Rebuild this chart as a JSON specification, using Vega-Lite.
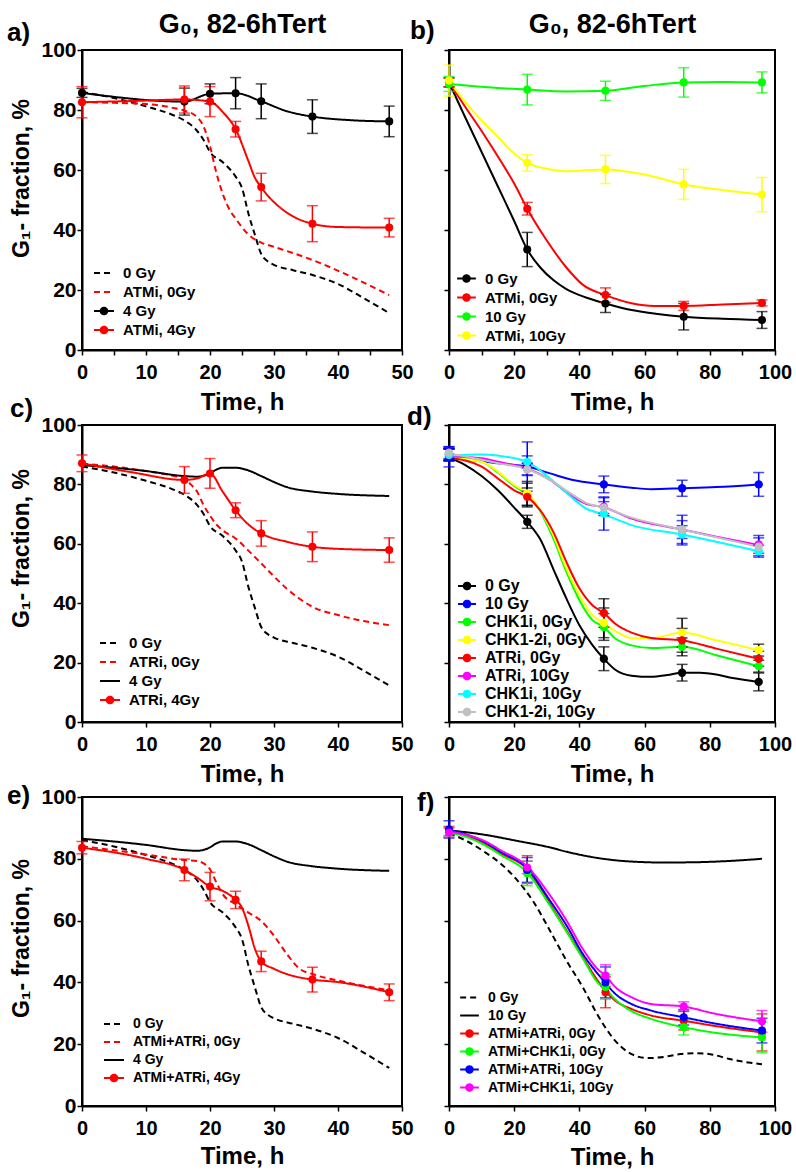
{
"$schema": "https://vega.github.io/schema/vega-lite/v6.json",
"padding": {"left": 6, "top": 9, "right": 5, "bottom": 5},
"background": "white",
"datasets": {
"curves": [
{"p":"ace","s":"0 Gy","t":0,"v":86},{"p":"ace","s":"0 Gy","t":5,"v":84},{"p":"ace","s":"0 Gy","t":10,"v":81.2},{"p":"ace","s":"0 Gy","t":14,"v":78.5},{"p":"ace","s":"0 Gy","t":16,"v":76.5},{"p":"ace","s":"0 Gy","t":18,"v":73},{"p":"ace","s":"0 Gy","t":19,"v":70},{"p":"ace","s":"0 Gy","t":20,"v":66},{"p":"ace","s":"0 Gy","t":22,"v":62.6},{"p":"ace","s":"0 Gy","t":24,"v":57.8},{"p":"ace","s":"0 Gy","t":25,"v":54},{"p":"ace","s":"0 Gy","t":26,"v":45.5},{"p":"ace","s":"0 Gy","t":27,"v":38.5},{"p":"ace","s":"0 Gy","t":28,"v":32},{"p":"ace","s":"0 Gy","t":29,"v":29.6},{"p":"ace","s":"0 Gy","t":30,"v":28.4},{"p":"ace","s":"0 Gy","t":33,"v":26.6},{"p":"ace","s":"0 Gy","t":36,"v":25},{"p":"ace","s":"0 Gy","t":40,"v":22},{"p":"ace","s":"0 Gy","t":44,"v":17.3},{"p":"ace","s":"0 Gy","t":48,"v":12.3},
{"p":"a","s":"ATMi, 0Gy","t":0,"v":82.6},{"p":"a","s":"ATMi, 0Gy","t":5,"v":82.4},{"p":"a","s":"ATMi, 0Gy","t":10,"v":82},{"p":"a","s":"ATMi, 0Gy","t":14,"v":80.8},{"p":"a","s":"ATMi, 0Gy","t":16,"v":79.8},{"p":"a","s":"ATMi, 0Gy","t":18,"v":77.6},{"p":"a","s":"ATMi, 0Gy","t":19,"v":74.5},{"p":"a","s":"ATMi, 0Gy","t":20,"v":68},{"p":"a","s":"ATMi, 0Gy","t":21,"v":59},{"p":"a","s":"ATMi, 0Gy","t":22,"v":52},{"p":"a","s":"ATMi, 0Gy","t":23,"v":47},{"p":"a","s":"ATMi, 0Gy","t":24,"v":43.8},{"p":"a","s":"ATMi, 0Gy","t":26,"v":38.5},{"p":"a","s":"ATMi, 0Gy","t":28,"v":35.8},{"p":"a","s":"ATMi, 0Gy","t":30,"v":34.4},{"p":"a","s":"ATMi, 0Gy","t":36,"v":30},{"p":"a","s":"ATMi, 0Gy","t":42,"v":24.5},{"p":"a","s":"ATMi, 0Gy","t":48,"v":18.3},
{"p":"a","s":"4 Gy","t":0,"v":85.7},{"p":"a","s":"4 Gy","t":16,"v":82.8},{"p":"a","s":"4 Gy","t":20,"v":85.4},{"p":"a","s":"4 Gy","t":24,"v":85.6},{"p":"a","s":"4 Gy","t":28,"v":82.9},{"p":"a","s":"4 Gy","t":32,"v":79.6},{"p":"a","s":"4 Gy","t":36,"v":77.8},{"p":"a","s":"4 Gy","t":42,"v":76.6},{"p":"a","s":"4 Gy","t":48,"v":76.2},
{"p":"a","s":"ATMi, 4Gy","t":0,"v":82.6},{"p":"a","s":"ATMi, 4Gy","t":8,"v":83},{"p":"a","s":"ATMi, 4Gy","t":16,"v":83.5},{"p":"a","s":"ATMi, 4Gy","t":20,"v":82.8},{"p":"a","s":"ATMi, 4Gy","t":22,"v":79.3},{"p":"a","s":"ATMi, 4Gy","t":24,"v":73.6},{"p":"a","s":"ATMi, 4Gy","t":26,"v":63},{"p":"a","s":"ATMi, 4Gy","t":27,"v":57.5},{"p":"a","s":"ATMi, 4Gy","t":28,"v":54.3},{"p":"a","s":"ATMi, 4Gy","t":29,"v":51.5},{"p":"a","s":"ATMi, 4Gy","t":30,"v":49.3},{"p":"a","s":"ATMi, 4Gy","t":33,"v":44.5},{"p":"a","s":"ATMi, 4Gy","t":36,"v":42.1},{"p":"a","s":"ATMi, 4Gy","t":40,"v":41},{"p":"a","s":"ATMi, 4Gy","t":48,"v":40.8},
{"p":"b","s":"0 Gy","t":0,"v":89.2},{"p":"b","s":"0 Gy","t":5,"v":77.5},{"p":"b","s":"0 Gy","t":10,"v":66},{"p":"b","s":"0 Gy","t":15,"v":54.5},{"p":"b","s":"0 Gy","t":20,"v":43},{"p":"b","s":"0 Gy","t":24,"v":33.5},{"p":"b","s":"0 Gy","t":28,"v":27.5},{"p":"b","s":"0 Gy","t":32,"v":23.3},{"p":"b","s":"0 Gy","t":36,"v":20.3},{"p":"b","s":"0 Gy","t":42,"v":17.5},{"p":"b","s":"0 Gy","t":48,"v":15.5},{"p":"b","s":"0 Gy","t":56,"v":13.3},{"p":"b","s":"0 Gy","t":64,"v":12},{"p":"b","s":"0 Gy","t":72,"v":11.1},{"p":"b","s":"0 Gy","t":84,"v":10.4},{"p":"b","s":"0 Gy","t":96,"v":10},
{"p":"b","s":"ATMi, 0Gy","t":0,"v":89.2},{"p":"b","s":"ATMi, 0Gy","t":5,"v":81},{"p":"b","s":"ATMi, 0Gy","t":10,"v":73},{"p":"b","s":"ATMi, 0Gy","t":15,"v":64.5},{"p":"b","s":"ATMi, 0Gy","t":20,"v":55.5},{"p":"b","s":"ATMi, 0Gy","t":24,"v":47.1},{"p":"b","s":"ATMi, 0Gy","t":30,"v":36.5},{"p":"b","s":"ATMi, 0Gy","t":36,"v":27.5},{"p":"b","s":"ATMi, 0Gy","t":41,"v":21.8},{"p":"b","s":"ATMi, 0Gy","t":48,"v":18.3},{"p":"b","s":"ATMi, 0Gy","t":56,"v":15.6},{"p":"b","s":"ATMi, 0Gy","t":63,"v":14.7},{"p":"b","s":"ATMi, 0Gy","t":72,"v":14.7},{"p":"b","s":"ATMi, 0Gy","t":84,"v":15.2},{"p":"b","s":"ATMi, 0Gy","t":96,"v":15.7},
{"p":"b","s":"10 Gy","t":0,"v":88.7},{"p":"b","s":"10 Gy","t":12,"v":87.6},{"p":"b","s":"10 Gy","t":24,"v":86.8},{"p":"b","s":"10 Gy","t":36,"v":86.2},{"p":"b","s":"10 Gy","t":48,"v":86.4},{"p":"b","s":"10 Gy","t":60,"v":88},{"p":"b","s":"10 Gy","t":72,"v":89.2},{"p":"b","s":"10 Gy","t":84,"v":89.3},{"p":"b","s":"10 Gy","t":96,"v":89.2},
{"p":"b","s":"ATMi, 10Gy","t":0,"v":89.8},{"p":"b","s":"ATMi, 10Gy","t":5,"v":82.6},{"p":"b","s":"ATMi, 10Gy","t":10,"v":76.5},{"p":"b","s":"ATMi, 10Gy","t":15,"v":71},{"p":"b","s":"ATMi, 10Gy","t":20,"v":65.5},{"p":"b","s":"ATMi, 10Gy","t":24,"v":62.4},{"p":"b","s":"ATMi, 10Gy","t":30,"v":60.4},{"p":"b","s":"ATMi, 10Gy","t":36,"v":59.6},{"p":"b","s":"ATMi, 10Gy","t":48,"v":60.2},{"p":"b","s":"ATMi, 10Gy","t":60,"v":58.5},{"p":"b","s":"ATMi, 10Gy","t":72,"v":55.2},{"p":"b","s":"ATMi, 10Gy","t":84,"v":53.3},{"p":"b","s":"ATMi, 10Gy","t":96,"v":51.8},
{"p":"c","s":"ATRi, 0Gy","t":0,"v":87},{"p":"c","s":"ATRi, 0Gy","t":5,"v":86},{"p":"c","s":"ATRi, 0Gy","t":10,"v":84.5},{"p":"c","s":"ATRi, 0Gy","t":14,"v":83},{"p":"c","s":"ATRi, 0Gy","t":16,"v":82},{"p":"c","s":"ATRi, 0Gy","t":17,"v":80},{"p":"c","s":"ATRi, 0Gy","t":18,"v":77.5},{"p":"c","s":"ATRi, 0Gy","t":19,"v":73},{"p":"c","s":"ATRi, 0Gy","t":20,"v":69.5},{"p":"c","s":"ATRi, 0Gy","t":21,"v":66.5},{"p":"c","s":"ATRi, 0Gy","t":22,"v":64.5},{"p":"c","s":"ATRi, 0Gy","t":24,"v":61.8},{"p":"c","s":"ATRi, 0Gy","t":26,"v":57.7},{"p":"c","s":"ATRi, 0Gy","t":28,"v":53.4},{"p":"c","s":"ATRi, 0Gy","t":30,"v":49},{"p":"c","s":"ATRi, 0Gy","t":32,"v":44.9},{"p":"c","s":"ATRi, 0Gy","t":34,"v":41.5},{"p":"c","s":"ATRi, 0Gy","t":36,"v":38.8},{"p":"c","s":"ATRi, 0Gy","t":40,"v":36},{"p":"c","s":"ATRi, 0Gy","t":44,"v":34},{"p":"c","s":"ATRi, 0Gy","t":48,"v":32.6},
{"p":"ce","s":"4 Gy","t":0,"v":86.5},{"p":"ce","s":"4 Gy","t":10,"v":84.5},{"p":"ce","s":"4 Gy","t":16,"v":82.8},{"p":"ce","s":"4 Gy","t":18,"v":82.6},{"p":"ce","s":"4 Gy","t":19,"v":82.9},{"p":"ce","s":"4 Gy","t":20,"v":83.7},{"p":"ce","s":"4 Gy","t":21,"v":85},{"p":"ce","s":"4 Gy","t":22,"v":85.6},{"p":"ce","s":"4 Gy","t":24,"v":85.6},{"p":"ce","s":"4 Gy","t":26,"v":84.7},{"p":"ce","s":"4 Gy","t":28,"v":82.8},{"p":"ce","s":"4 Gy","t":30,"v":80.8},{"p":"ce","s":"4 Gy","t":32,"v":79.1},{"p":"ce","s":"4 Gy","t":36,"v":77.6},{"p":"ce","s":"4 Gy","t":40,"v":76.8},{"p":"ce","s":"4 Gy","t":48,"v":76.1},
{"p":"c","s":"ATRi, 4Gy","t":0,"v":87.1},{"p":"c","s":"ATRi, 4Gy","t":8,"v":84},{"p":"c","s":"ATRi, 4Gy","t":16,"v":81.5},{"p":"c","s":"ATRi, 4Gy","t":18,"v":82},{"p":"c","s":"ATRi, 4Gy","t":20,"v":83.7},{"p":"c","s":"ATRi, 4Gy","t":22,"v":77.5},{"p":"c","s":"ATRi, 4Gy","t":24,"v":71.3},{"p":"c","s":"ATRi, 4Gy","t":26,"v":66.5},{"p":"c","s":"ATRi, 4Gy","t":28,"v":63.5},{"p":"c","s":"ATRi, 4Gy","t":32,"v":60.7},{"p":"c","s":"ATRi, 4Gy","t":36,"v":59},{"p":"c","s":"ATRi, 4Gy","t":40,"v":58.3},{"p":"c","s":"ATRi, 4Gy","t":48,"v":57.9},
{"p":"d","s":"0 Gy","t":0,"v":89},{"p":"d","s":"0 Gy","t":5,"v":86.5},{"p":"d","s":"0 Gy","t":10,"v":82.8},{"p":"d","s":"0 Gy","t":15,"v":78},{"p":"d","s":"0 Gy","t":20,"v":72.2},{"p":"d","s":"0 Gy","t":24,"v":67.4},{"p":"d","s":"0 Gy","t":28,"v":61.5},{"p":"d","s":"0 Gy","t":32,"v":51.5},{"p":"d","s":"0 Gy","t":36,"v":41.6},{"p":"d","s":"0 Gy","t":40,"v":32.6},{"p":"d","s":"0 Gy","t":44,"v":25.9},{"p":"d","s":"0 Gy","t":47.5,"v":21.3},{"p":"d","s":"0 Gy","t":51,"v":17.6},{"p":"d","s":"0 Gy","t":56,"v":15.6},{"p":"d","s":"0 Gy","t":62,"v":15.2},{"p":"d","s":"0 Gy","t":67,"v":15.8},{"p":"d","s":"0 Gy","t":71.5,"v":16.6},{"p":"d","s":"0 Gy","t":77,"v":16.6},{"p":"d","s":"0 Gy","t":82,"v":16},{"p":"d","s":"0 Gy","t":87,"v":14.8},{"p":"d","s":"0 Gy","t":95,"v":13.5},
{"p":"d","s":"10 Gy","t":0,"v":89},{"p":"d","s":"10 Gy","t":10,"v":87.9},{"p":"d","s":"10 Gy","t":15,"v":87.1},{"p":"d","s":"10 Gy","t":24,"v":86},{"p":"d","s":"10 Gy","t":31,"v":83.7},{"p":"d","s":"10 Gy","t":38,"v":81.5},{"p":"d","s":"10 Gy","t":47.5,"v":80},{"p":"d","s":"10 Gy","t":56,"v":78.9},{"p":"d","s":"10 Gy","t":62,"v":78.4},{"p":"d","s":"10 Gy","t":71.5,"v":78.7},{"p":"d","s":"10 Gy","t":82,"v":79.1},{"p":"d","s":"10 Gy","t":95,"v":80},
{"p":"d","s":"CHK1i, 0Gy","t":0,"v":89},{"p":"d","s":"CHK1i, 0Gy","t":10,"v":87.6},{"p":"d","s":"CHK1i, 0Gy","t":15,"v":84},{"p":"d","s":"CHK1i, 0Gy","t":20,"v":79.5},{"p":"d","s":"CHK1i, 0Gy","t":24,"v":76.4},{"p":"d","s":"CHK1i, 0Gy","t":28,"v":71},{"p":"d","s":"CHK1i, 0Gy","t":32,"v":61.8},{"p":"d","s":"CHK1i, 0Gy","t":36,"v":50.6},{"p":"d","s":"CHK1i, 0Gy","t":40,"v":41},{"p":"d","s":"CHK1i, 0Gy","t":44,"v":34.3},{"p":"d","s":"CHK1i, 0Gy","t":47.5,"v":32},{"p":"d","s":"CHK1i, 0Gy","t":51,"v":28.1},{"p":"d","s":"CHK1i, 0Gy","t":56,"v":25.8},{"p":"d","s":"CHK1i, 0Gy","t":62,"v":24.9},{"p":"d","s":"CHK1i, 0Gy","t":71.5,"v":25.3},{"p":"d","s":"CHK1i, 0Gy","t":82,"v":22.5},{"p":"d","s":"CHK1i, 0Gy","t":95,"v":18.8},
{"p":"d","s":"CHK1-2i, 0Gy","t":0,"v":89},{"p":"d","s":"CHK1-2i, 0Gy","t":10,"v":87.6},{"p":"d","s":"CHK1-2i, 0Gy","t":15,"v":84.3},{"p":"d","s":"CHK1-2i, 0Gy","t":20,"v":79.8},{"p":"d","s":"CHK1-2i, 0Gy","t":24,"v":77},{"p":"d","s":"CHK1-2i, 0Gy","t":28,"v":71.3},{"p":"d","s":"CHK1-2i, 0Gy","t":32,"v":62.9},{"p":"d","s":"CHK1-2i, 0Gy","t":36,"v":51.7},{"p":"d","s":"CHK1-2i, 0Gy","t":40,"v":42.7},{"p":"d","s":"CHK1-2i, 0Gy","t":44,"v":36},{"p":"d","s":"CHK1-2i, 0Gy","t":47.5,"v":33.4},{"p":"d","s":"CHK1-2i, 0Gy","t":51,"v":30.6},{"p":"d","s":"CHK1-2i, 0Gy","t":56,"v":28.3},{"p":"d","s":"CHK1-2i, 0Gy","t":62,"v":28.1},{"p":"d","s":"CHK1-2i, 0Gy","t":66,"v":29},{"p":"d","s":"CHK1-2i, 0Gy","t":71.5,"v":30.1},{"p":"d","s":"CHK1-2i, 0Gy","t":82,"v":27.5},{"p":"d","s":"CHK1-2i, 0Gy","t":95,"v":24.2},
{"p":"d","s":"ATRi, 0Gy","t":0,"v":89},{"p":"d","s":"ATRi, 0Gy","t":10,"v":86},{"p":"d","s":"ATRi, 0Gy","t":15,"v":82},{"p":"d","s":"ATRi, 0Gy","t":20,"v":78},{"p":"d","s":"ATRi, 0Gy","t":24,"v":75.8},{"p":"d","s":"ATRi, 0Gy","t":28,"v":71.3},{"p":"d","s":"ATRi, 0Gy","t":32,"v":64},{"p":"d","s":"ATRi, 0Gy","t":36,"v":53.9},{"p":"d","s":"ATRi, 0Gy","t":40,"v":45},{"p":"d","s":"ATRi, 0Gy","t":44,"v":39.3},{"p":"d","s":"ATRi, 0Gy","t":47.5,"v":36.7},{"p":"d","s":"ATRi, 0Gy","t":51,"v":33.1},{"p":"d","s":"ATRi, 0Gy","t":56,"v":30.1},{"p":"d","s":"ATRi, 0Gy","t":62,"v":28.3},{"p":"d","s":"ATRi, 0Gy","t":71.5,"v":27.5},{"p":"d","s":"ATRi, 0Gy","t":82,"v":24.7},{"p":"d","s":"ATRi, 0Gy","t":95,"v":21.3},
{"p":"d","s":"ATRi, 10Gy","t":0,"v":89.5},{"p":"d","s":"ATRi, 10Gy","t":10,"v":88.8},{"p":"d","s":"ATRi, 10Gy","t":15,"v":87.6},{"p":"d","s":"ATRi, 10Gy","t":24,"v":85.4},{"p":"d","s":"ATRi, 10Gy","t":31,"v":81.5},{"p":"d","s":"ATRi, 10Gy","t":38,"v":75.8},{"p":"d","s":"ATRi, 10Gy","t":42,"v":73.5},{"p":"d","s":"ATRi, 10Gy","t":47.5,"v":72.3},{"p":"d","s":"ATRi, 10Gy","t":56,"v":68.5},{"p":"d","s":"ATRi, 10Gy","t":71.5,"v":64.8},{"p":"d","s":"ATRi, 10Gy","t":82,"v":62.4},{"p":"d","s":"ATRi, 10Gy","t":95,"v":59.6},
{"p":"d","s":"CHK1i, 10Gy","t":0,"v":89.7},{"p":"d","s":"CHK1i, 10Gy","t":10,"v":90.1},{"p":"d","s":"CHK1i, 10Gy","t":15,"v":89.7},{"p":"d","s":"CHK1i, 10Gy","t":24,"v":87.6},{"p":"d","s":"CHK1i, 10Gy","t":31,"v":82},{"p":"d","s":"CHK1i, 10Gy","t":38,"v":75.3},{"p":"d","s":"CHK1i, 10Gy","t":42,"v":71.9},{"p":"d","s":"CHK1i, 10Gy","t":47.5,"v":69.9},{"p":"d","s":"CHK1i, 10Gy","t":56,"v":66.3},{"p":"d","s":"CHK1i, 10Gy","t":71.5,"v":63.1},{"p":"d","s":"CHK1i, 10Gy","t":82,"v":60.7},{"p":"d","s":"CHK1i, 10Gy","t":95,"v":57.5},
{"p":"d","s":"CHK1-2i, 10Gy","t":0,"v":90.5},{"p":"d","s":"CHK1-2i, 10Gy","t":10,"v":88.3},{"p":"d","s":"CHK1-2i, 10Gy","t":15,"v":87.1},{"p":"d","s":"CHK1-2i, 10Gy","t":24,"v":85.1},{"p":"d","s":"CHK1-2i, 10Gy","t":31,"v":81.5},{"p":"d","s":"CHK1-2i, 10Gy","t":38,"v":76.5},{"p":"d","s":"CHK1-2i, 10Gy","t":42,"v":73.8},{"p":"d","s":"CHK1-2i, 10Gy","t":47.5,"v":72.2},{"p":"d","s":"CHK1-2i, 10Gy","t":56,"v":68.8},{"p":"d","s":"CHK1-2i, 10Gy","t":71.5,"v":64.8},{"p":"d","s":"CHK1-2i, 10Gy","t":82,"v":62.2},{"p":"d","s":"CHK1-2i, 10Gy","t":95,"v":59},
{"p":"e","s":"ATMi+ATRi, 0Gy","t":0,"v":84.1},{"p":"e","s":"ATMi+ATRi, 0Gy","t":10,"v":81.4},{"p":"e","s":"ATMi+ATRi, 0Gy","t":16,"v":79.6},{"p":"e","s":"ATMi+ATRi, 0Gy","t":18,"v":79.3},{"p":"e","s":"ATMi+ATRi, 0Gy","t":19,"v":78.5},{"p":"e","s":"ATMi+ATRi, 0Gy","t":20,"v":76.6},{"p":"e","s":"ATMi+ATRi, 0Gy","t":21,"v":72.3},{"p":"e","s":"ATMi+ATRi, 0Gy","t":22,"v":68.5},{"p":"e","s":"ATMi+ATRi, 0Gy","t":24,"v":65.3},{"p":"e","s":"ATMi+ATRi, 0Gy","t":26,"v":62.6},{"p":"e","s":"ATMi+ATRi, 0Gy","t":28,"v":59.9},{"p":"e","s":"ATMi+ATRi, 0Gy","t":30,"v":55.1},{"p":"e","s":"ATMi+ATRi, 0Gy","t":32,"v":49.2},{"p":"e","s":"ATMi+ATRi, 0Gy","t":34,"v":44.4},{"p":"e","s":"ATMi+ATRi, 0Gy","t":36,"v":42.7},{"p":"e","s":"ATMi+ATRi, 0Gy","t":40,"v":40.6},{"p":"e","s":"ATMi+ATRi, 0Gy","t":44,"v":38.9},{"p":"e","s":"ATMi+ATRi, 0Gy","t":48,"v":37.4},
{"p":"e","s":"ATMi+ATRi, 4Gy","t":0,"v":83.6},{"p":"e","s":"ATMi+ATRi, 4Gy","t":10,"v":80},{"p":"e","s":"ATMi+ATRi, 4Gy","t":16,"v":76.4},{"p":"e","s":"ATMi+ATRi, 4Gy","t":18,"v":73.9},{"p":"e","s":"ATMi+ATRi, 4Gy","t":20,"v":71},{"p":"e","s":"ATMi+ATRi, 4Gy","t":22,"v":69.6},{"p":"e","s":"ATMi+ATRi, 4Gy","t":24,"v":66.7},{"p":"e","s":"ATMi+ATRi, 4Gy","t":25,"v":64.2},{"p":"e","s":"ATMi+ATRi, 4Gy","t":26,"v":58.3},{"p":"e","s":"ATMi+ATRi, 4Gy","t":27,"v":51},{"p":"e","s":"ATMi+ATRi, 4Gy","t":28,"v":46.8},{"p":"e","s":"ATMi+ATRi, 4Gy","t":30,"v":44.4},{"p":"e","s":"ATMi+ATRi, 4Gy","t":32,"v":42.7},{"p":"e","s":"ATMi+ATRi, 4Gy","t":36,"v":40.9},{"p":"e","s":"ATMi+ATRi, 4Gy","t":40,"v":40.1},{"p":"e","s":"ATMi+ATRi, 4Gy","t":48,"v":36.8},
{"p":"f","s":"0 Gy","t":0,"v":88.3},{"p":"f","s":"0 Gy","t":5.7,"v":85.6},{"p":"f","s":"0 Gy","t":10.8,"v":82.3},{"p":"f","s":"0 Gy","t":15.8,"v":78.5},{"p":"f","s":"0 Gy","t":20.9,"v":73.1},{"p":"f","s":"0 Gy","t":25.9,"v":66.1},{"p":"f","s":"0 Gy","t":30.9,"v":56.9},{"p":"f","s":"0 Gy","t":36,"v":47.1},{"p":"f","s":"0 Gy","t":41,"v":38.5},{"p":"f","s":"0 Gy","t":46,"v":28.7},{"p":"f","s":"0 Gy","t":51,"v":21.1},{"p":"f","s":"0 Gy","t":56,"v":16.8},{"p":"f","s":"0 Gy","t":61,"v":15.5},{"p":"f","s":"0 Gy","t":66,"v":15.9},{"p":"f","s":"0 Gy","t":71,"v":16.8},{"p":"f","s":"0 Gy","t":76,"v":17.1},{"p":"f","s":"0 Gy","t":81,"v":16.6},{"p":"f","s":"0 Gy","t":86,"v":15.2},{"p":"f","s":"0 Gy","t":96,"v":13.5},
{"p":"f","s":"10 Gy","t":0,"v":89.2},{"p":"f","s":"10 Gy","t":10.8,"v":87.8},{"p":"f","s":"10 Gy","t":20.9,"v":85.8},{"p":"f","s":"10 Gy","t":30.9,"v":83.7},{"p":"f","s":"10 Gy","t":36,"v":82.3},{"p":"f","s":"10 Gy","t":46,"v":80.2},{"p":"f","s":"10 Gy","t":56,"v":79.1},{"p":"f","s":"10 Gy","t":66,"v":78.8},{"p":"f","s":"10 Gy","t":76,"v":78.9},{"p":"f","s":"10 Gy","t":86,"v":79.3},{"p":"f","s":"10 Gy","t":96,"v":80},
{"p":"f","s":"ATMi+ATRi, 0Gy","t":0,"v":88.8},{"p":"f","s":"ATMi+ATRi, 0Gy","t":5,"v":87.5},{"p":"f","s":"ATMi+ATRi, 0Gy","t":10.8,"v":85},{"p":"f","s":"ATMi+ATRi, 0Gy","t":15.8,"v":81.8},{"p":"f","s":"ATMi+ATRi, 0Gy","t":24,"v":76.6},{"p":"f","s":"ATMi+ATRi, 0Gy","t":30.9,"v":65.5},{"p":"f","s":"ATMi+ATRi, 0Gy","t":36,"v":56.9},{"p":"f","s":"ATMi+ATRi, 0Gy","t":41,"v":48.2},{"p":"f","s":"ATMi+ATRi, 0Gy","t":46,"v":40},{"p":"f","s":"ATMi+ATRi, 0Gy","t":48,"v":37.2},{"p":"f","s":"ATMi+ATRi, 0Gy","t":51,"v":34.1},{"p":"f","s":"ATMi+ATRi, 0Gy","t":56,"v":31.4},{"p":"f","s":"ATMi+ATRi, 0Gy","t":62,"v":29.3},{"p":"f","s":"ATMi+ATRi, 0Gy","t":72,"v":27.6},{"p":"f","s":"ATMi+ATRi, 0Gy","t":81,"v":26},{"p":"f","s":"ATMi+ATRi, 0Gy","t":96,"v":23.8},
{"p":"f","s":"ATMi+CHK1i, 0Gy","t":0,"v":88.5},{"p":"f","s":"ATMi+CHK1i, 0Gy","t":5,"v":87.2},{"p":"f","s":"ATMi+CHK1i, 0Gy","t":10.8,"v":84.5},{"p":"f","s":"ATMi+CHK1i, 0Gy","t":15.8,"v":81.3},{"p":"f","s":"ATMi+CHK1i, 0Gy","t":24,"v":75.5},{"p":"f","s":"ATMi+CHK1i, 0Gy","t":30.9,"v":65},{"p":"f","s":"ATMi+CHK1i, 0Gy","t":36,"v":56.5},{"p":"f","s":"ATMi+CHK1i, 0Gy","t":41,"v":47.8},{"p":"f","s":"ATMi+CHK1i, 0Gy","t":46,"v":39.5},{"p":"f","s":"ATMi+CHK1i, 0Gy","t":48,"v":37.9},{"p":"f","s":"ATMi+CHK1i, 0Gy","t":51,"v":34.5},{"p":"f","s":"ATMi+CHK1i, 0Gy","t":56,"v":30.7},{"p":"f","s":"ATMi+CHK1i, 0Gy","t":62,"v":28.2},{"p":"f","s":"ATMi+CHK1i, 0Gy","t":72,"v":25.5},{"p":"f","s":"ATMi+CHK1i, 0Gy","t":81,"v":23.8},{"p":"f","s":"ATMi+CHK1i, 0Gy","t":96,"v":22.2},
{"p":"f","s":"ATMi+ATRi, 10Gy","t":0,"v":89.3},{"p":"f","s":"ATMi+ATRi, 10Gy","t":5,"v":88},{"p":"f","s":"ATMi+ATRi, 10Gy","t":10.8,"v":85.5},{"p":"f","s":"ATMi+ATRi, 10Gy","t":15.8,"v":82.3},{"p":"f","s":"ATMi+ATRi, 10Gy","t":24,"v":76.9},{"p":"f","s":"ATMi+ATRi, 10Gy","t":30.9,"v":66.6},{"p":"f","s":"ATMi+ATRi, 10Gy","t":36,"v":58.5},{"p":"f","s":"ATMi+ATRi, 10Gy","t":41,"v":49.3},{"p":"f","s":"ATMi+ATRi, 10Gy","t":46,"v":42.3},{"p":"f","s":"ATMi+ATRi, 10Gy","t":48,"v":39.8},{"p":"f","s":"ATMi+ATRi, 10Gy","t":51,"v":36.3},{"p":"f","s":"ATMi+ATRi, 10Gy","t":56,"v":33},{"p":"f","s":"ATMi+ATRi, 10Gy","t":62,"v":30.9},{"p":"f","s":"ATMi+ATRi, 10Gy","t":72,"v":28.7},{"p":"f","s":"ATMi+ATRi, 10Gy","t":81,"v":26.8},{"p":"f","s":"ATMi+ATRi, 10Gy","t":96,"v":24.4},
{"p":"f","s":"ATMi+CHK1i, 10Gy","t":0,"v":88.8},{"p":"f","s":"ATMi+CHK1i, 10Gy","t":5,"v":87.8},{"p":"f","s":"ATMi+CHK1i, 10Gy","t":10.8,"v":85.8},{"p":"f","s":"ATMi+CHK1i, 10Gy","t":15.8,"v":82.8},{"p":"f","s":"ATMi+CHK1i, 10Gy","t":24,"v":77.5},{"p":"f","s":"ATMi+CHK1i, 10Gy","t":30.9,"v":68.3},{"p":"f","s":"ATMi+CHK1i, 10Gy","t":36,"v":60.1},{"p":"f","s":"ATMi+CHK1i, 10Gy","t":41,"v":50.9},{"p":"f","s":"ATMi+CHK1i, 10Gy","t":46,"v":43.9},{"p":"f","s":"ATMi+CHK1i, 10Gy","t":48,"v":42.2},{"p":"f","s":"ATMi+CHK1i, 10Gy","t":51,"v":38.5},{"p":"f","s":"ATMi+CHK1i, 10Gy","t":56,"v":35.2},{"p":"f","s":"ATMi+CHK1i, 10Gy","t":62,"v":33},{"p":"f","s":"ATMi+CHK1i, 10Gy","t":72,"v":32.2},{"p":"f","s":"ATMi+CHK1i, 10Gy","t":81,"v":30},{"p":"f","s":"ATMi+CHK1i, 10Gy","t":96,"v":27.4}
],
"points": [
{"p":"a","s":"4 Gy","t":0,"v":85.7,"e":1.5},{"p":"a","s":"4 Gy","t":16,"v":82.8,"e":4.5},{"p":"a","s":"4 Gy","t":20,"v":85.4,"e":3.3},{"p":"a","s":"4 Gy","t":24,"v":85.6,"e":5.2},{"p":"a","s":"4 Gy","t":28,"v":82.9,"e":5.8},{"p":"a","s":"4 Gy","t":36,"v":77.8,"e":5.6},{"p":"a","s":"4 Gy","t":48,"v":76.2,"e":5.1},
{"p":"a","s":"ATMi, 4Gy","t":0,"v":82.6,"e":5.2},{"p":"a","s":"ATMi, 4Gy","t":16,"v":83.5,"e":4.5},{"p":"a","s":"ATMi, 4Gy","t":20,"v":82.8,"e":5},{"p":"a","s":"ATMi, 4Gy","t":24,"v":73.6,"e":2.6},{"p":"a","s":"ATMi, 4Gy","t":28,"v":54.3,"e":4.6},{"p":"a","s":"ATMi, 4Gy","t":36,"v":42.1,"e":6},{"p":"a","s":"ATMi, 4Gy","t":48,"v":40.8,"e":3.1},
{"p":"b","s":"0 Gy","t":0,"v":89.2,"e":1.5},{"p":"b","s":"0 Gy","t":24,"v":33.5,"e":5.7},{"p":"b","s":"0 Gy","t":48,"v":15.5,"e":3},{"p":"b","s":"0 Gy","t":72,"v":11.1,"e":4.4},{"p":"b","s":"0 Gy","t":96,"v":10,"e":2.8},
{"p":"b","s":"ATMi, 0Gy","t":0,"v":89.2,"e":1.5},{"p":"b","s":"ATMi, 0Gy","t":24,"v":47.1,"e":2.1},{"p":"b","s":"ATMi, 0Gy","t":48,"v":18.3,"e":2.4},{"p":"b","s":"ATMi, 0Gy","t":72,"v":14.7,"e":1.5},{"p":"b","s":"ATMi, 0Gy","t":96,"v":15.7,"e":1},
{"p":"b","s":"10 Gy","t":0,"v":88.7,"e":2.5},{"p":"b","s":"10 Gy","t":24,"v":86.8,"e":5.1},{"p":"b","s":"10 Gy","t":48,"v":86.4,"e":3.2},{"p":"b","s":"10 Gy","t":72,"v":89.2,"e":4.9},{"p":"b","s":"10 Gy","t":96,"v":89.2,"e":3.5},
{"p":"b","s":"ATMi, 10Gy","t":0,"v":89.8,"e":5.2},{"p":"b","s":"ATMi, 10Gy","t":24,"v":62.4,"e":2.8},{"p":"b","s":"ATMi, 10Gy","t":48,"v":60.2,"e":4.7},{"p":"b","s":"ATMi, 10Gy","t":72,"v":55.2,"e":5},{"p":"b","s":"ATMi, 10Gy","t":96,"v":51.8,"e":5.7},
{"p":"c","s":"ATRi, 4Gy","t":0,"v":87.1,"e":2.8},{"p":"c","s":"ATRi, 4Gy","t":16,"v":81.5,"e":4.5},{"p":"c","s":"ATRi, 4Gy","t":20,"v":83.7,"e":5},{"p":"c","s":"ATRi, 4Gy","t":24,"v":71.3,"e":2.5},{"p":"c","s":"ATRi, 4Gy","t":28,"v":63.5,"e":4.3},{"p":"c","s":"ATRi, 4Gy","t":36,"v":59,"e":5},{"p":"c","s":"ATRi, 4Gy","t":48,"v":57.9,"e":4.1},
{"p":"d","s":"0 Gy","t":0,"v":90.4,"e":2},{"p":"d","s":"0 Gy","t":24,"v":67.4,"e":2.2},{"p":"d","s":"0 Gy","t":47.5,"v":21.3,"e":4},{"p":"d","s":"0 Gy","t":71.5,"v":16.6,"e":2.8},{"p":"d","s":"0 Gy","t":95,"v":13.5,"e":3},
{"p":"d","s":"10 Gy","t":0,"v":89.3,"e":3.4},{"p":"d","s":"10 Gy","t":24,"v":86,"e":8.3},{"p":"d","s":"10 Gy","t":47.5,"v":80,"e":2.8},{"p":"d","s":"10 Gy","t":71.5,"v":78.7,"e":2.7},{"p":"d","s":"10 Gy","t":95,"v":80,"e":4},
{"p":"d","s":"CHK1i, 0Gy","t":0,"v":90,"e":2},{"p":"d","s":"CHK1i, 0Gy","t":24,"v":76.4,"e":4},{"p":"d","s":"CHK1i, 0Gy","t":47.5,"v":32,"e":4.5},{"p":"d","s":"CHK1i, 0Gy","t":71.5,"v":25.3,"e":3},{"p":"d","s":"CHK1i, 0Gy","t":95,"v":18.8,"e":2},
{"p":"d","s":"CHK1-2i, 0Gy","t":0,"v":90,"e":2},{"p":"d","s":"CHK1-2i, 0Gy","t":24,"v":77,"e":4},{"p":"d","s":"CHK1-2i, 0Gy","t":47.5,"v":33.4,"e":5},{"p":"d","s":"CHK1-2i, 0Gy","t":71.5,"v":30.1,"e":4.8},{"p":"d","s":"CHK1-2i, 0Gy","t":95,"v":24.2,"e":2},
{"p":"d","s":"ATRi, 0Gy","t":0,"v":90,"e":2},{"p":"d","s":"ATRi, 0Gy","t":24,"v":75.8,"e":3},{"p":"d","s":"ATRi, 0Gy","t":47.5,"v":36.7,"e":4.8},{"p":"d","s":"ATRi, 0Gy","t":71.5,"v":27.5,"e":4},{"p":"d","s":"ATRi, 0Gy","t":95,"v":21.3,"e":2.5},
{"p":"d","s":"ATRi, 10Gy","t":0,"v":90,"e":2},{"p":"d","s":"ATRi, 10Gy","t":24,"v":85.2,"e":2},{"p":"d","s":"ATRi, 10Gy","t":47.5,"v":72.5,"e":3},{"p":"d","s":"ATRi, 10Gy","t":71.5,"v":64.6,"e":5},{"p":"d","s":"ATRi, 10Gy","t":95,"v":59.8,"e":3},
{"p":"d","s":"CHK1i, 10Gy","t":0,"v":90,"e":2},{"p":"d","s":"CHK1i, 10Gy","t":24,"v":87.6,"e":2},{"p":"d","s":"CHK1i, 10Gy","t":47.5,"v":70.2,"e":5.6},{"p":"d","s":"CHK1i, 10Gy","t":71.5,"v":63.1,"e":3},{"p":"d","s":"CHK1i, 10Gy","t":95,"v":57.5,"e":2},
{"p":"d","s":"CHK1-2i, 10Gy","t":0,"v":90.7,"e":2},{"p":"d","s":"CHK1-2i, 10Gy","t":24,"v":85,"e":2},{"p":"d","s":"CHK1-2i, 10Gy","t":47.5,"v":72.2,"e":2},{"p":"d","s":"CHK1-2i, 10Gy","t":71.5,"v":64.8,"e":3},{"p":"d","s":"CHK1-2i, 10Gy","t":95,"v":59,"e":3},
{"p":"e","s":"ATMi+ATRi, 4Gy","t":0,"v":83.6,"e":2},{"p":"e","s":"ATMi+ATRi, 4Gy","t":16,"v":76.4,"e":3.5},{"p":"e","s":"ATMi+ATRi, 4Gy","t":20,"v":71,"e":4.6},{"p":"e","s":"ATMi+ATRi, 4Gy","t":24,"v":66.7,"e":2.8},{"p":"e","s":"ATMi+ATRi, 4Gy","t":28,"v":46.8,"e":3.3},{"p":"e","s":"ATMi+ATRi, 4Gy","t":36,"v":40.9,"e":4},{"p":"e","s":"ATMi+ATRi, 4Gy","t":48,"v":36.8,"e":2.7},
{"p":"f","s":"ATMi+ATRi, 0Gy","t":0,"v":89,"e":1.5},{"p":"f","s":"ATMi+ATRi, 0Gy","t":24,"v":76.5,"e":4.5},{"p":"f","s":"ATMi+ATRi, 0Gy","t":48,"v":36.8,"e":5},{"p":"f","s":"ATMi+ATRi, 0Gy","t":72,"v":27.6,"e":3},{"p":"f","s":"ATMi+ATRi, 0Gy","t":96,"v":23.8,"e":6},
{"p":"f","s":"ATMi+CHK1i, 0Gy","t":0,"v":88.5,"e":1.5},{"p":"f","s":"ATMi+CHK1i, 0Gy","t":24,"v":75.3,"e":4},{"p":"f","s":"ATMi+CHK1i, 0Gy","t":48,"v":38.5,"e":4},{"p":"f","s":"ATMi+CHK1i, 0Gy","t":72,"v":25.5,"e":2.5},{"p":"f","s":"ATMi+CHK1i, 0Gy","t":96,"v":22.2,"e":5},
{"p":"f","s":"ATMi+ATRi, 10Gy","t":0,"v":89.5,"e":2.8},{"p":"f","s":"ATMi+ATRi, 10Gy","t":24,"v":76.4,"e":4},{"p":"f","s":"ATMi+ATRi, 10Gy","t":48,"v":40,"e":5},{"p":"f","s":"ATMi+ATRi, 10Gy","t":72,"v":28.7,"e":2.5},{"p":"f","s":"ATMi+ATRi, 10Gy","t":96,"v":24.4,"e":4},
{"p":"f","s":"ATMi+CHK1i, 10Gy","t":0,"v":88.5,"e":1.5},{"p":"f","s":"ATMi+CHK1i, 10Gy","t":24,"v":77.2,"e":2},{"p":"f","s":"ATMi+CHK1i, 10Gy","t":48,"v":42.2,"e":3.5},{"p":"f","s":"ATMi+CHK1i, 10Gy","t":72,"v":32.2,"e":1.5},{"p":"f","s":"ATMi+CHK1i, 10Gy","t":96,"v":27.4,"e":3.5}
]
},
"concat": [
{
"width": 320, "height": 300,
"title": {"text": "a)", "dx": -75, "dy": 40},
"layer": [
{"data": {"name": "curves"}, "transform": [{"filter": "indexof(datum.p, 'a') >= 0"}],
 "mark": {"type": "line", "interpolate": "monotone", "strokeWidth": 2},
 "encoding": {
  "x": {"field": "t", "type": "quantitative", "scale": {"domain": [0, 50], "nice": false}, "axis": {"title": "Time, h", "values": [0,5,10,15,20,25,30,35,40,45,50], "labelExpr": "datum.value % 10 === 0 ? datum.label : ''", "titleY": 59, "titleBaseline": "alphabetic"}},
  "y": {"field": "v", "type": "quantitative", "title": "G₁- fraction, %", "scale": {"domain": [0, 100], "nice": false}, "axis": {"title": "G₁- fraction, %", "values": [0,20,40,60,80,100], "titleX": -49, "titleY": 128, "titleAngle": 270, "titleBaseline": "bottom", "titleAlign": "center"}},
  "color": {"field": "s", "type": "nominal", "scale": {"domain": ["0 Gy","ATMi, 0Gy","4 Gy","ATMi, 4Gy"], "range": ["#000000","#ff0000","#000000","#ff0000"]},
   "legend": {"title": null, "orient": "none", "legendX": 11, "legendY": 212, "labelFontSize": 15, "rowPadding": 0, "symbolSize": 400, "labelOffset": 8,
    "encode": {"symbols": {"update": {
     "shape": {"signal": "indexof(['0 Gy','ATMi, 0Gy'], datum.value) >= 0 ? 'stroke' : 'M-1,0H1M0.33,0A0.33,0.33,0,1,1,-0.33,0A0.33,0.33,0,1,1,0.33,0Z'"},
     "size": {"value": 400}, "strokeWidth": {"value": 2}, "opacity": {"value": 1}, "fillOpacity": {"value": 1}, "strokeOpacity": {"value": 1},
     "strokeDash": {"signal": "indexof(['0 Gy','ATMi, 0Gy'], datum.value) >= 0 ? [6,4] : [1,0]"},
     "stroke": {"signal": "['#000000','#ff0000','#000000','#ff0000'][indexof(['0 Gy','ATMi, 0Gy','4 Gy','ATMi, 4Gy'], datum.value)]"},
     "fill": {"signal": "['#000000','#ff0000','#000000','#ff0000'][indexof(['0 Gy','ATMi, 0Gy','4 Gy','ATMi, 4Gy'], datum.value)]"}
    }}}}},
  "strokeDash": {"field": "s", "type": "nominal", "scale": {"domain": ["0 Gy","ATMi, 0Gy","4 Gy","ATMi, 4Gy"], "range": [[6,4],[6,4],[1,0],[1,0]]}, "legend": null}
 }},
{"data": {"name": "points"}, "transform": [{"filter": "datum.p === 'a'"}],
 "mark": {"type": "errorbar", "ticks": {"size": 11}, "thickness": 1.5},
 "encoding": {"x": {"field": "t", "type": "quantitative", "axis": null}, "y": {"field": "v", "type": "quantitative", "title": "G₁- fraction, %"}, "yError": {"field": "e"}, "color": {"field": "s", "type": "nominal"}}},
{"data": {"name": "points"}, "transform": [{"filter": "datum.p === 'a'"}],
 "mark": {"type": "point", "filled": true, "size": 65, "opacity": 1},
 "encoding": {"x": {"field": "t", "type": "quantitative", "axis": {"orient": "top", "title": "G₀, 82-6hTert", "labels": false, "ticks": false, "domain": false, "titleFontSize": 27, "titleY": -18, "titleBaseline": "alphabetic"}}, "y": {"field": "v", "type": "quantitative", "title": "G₁- fraction, %"}, "color": {"field": "s", "type": "nominal"}}}
],
"resolve": {"axis": {"x": "independent"}}
},
{
"width": 326, "height": 300,
"title": {"text": "b)", "dx": -39, "dy": 38},
"layer": [
{"data": {"name": "curves"}, "transform": [{"filter": "datum.p === 'b'"}],
 "mark": {"type": "line", "interpolate": "monotone", "strokeWidth": 2},
 "encoding": {
  "x": {"field": "t", "type": "quantitative", "scale": {"domain": [0, 100], "nice": false}, "axis": {"title": "Time, h", "values": [0,10,20,30,40,50,60,70,80,90,100], "labelExpr": "datum.value % 20 === 0 ? datum.label : ''", "titleY": 59, "titleBaseline": "alphabetic"}},
  "y": {"field": "v", "type": "quantitative", "scale": {"domain": [0, 100], "nice": false}, "axis": {"title": null, "labels": false, "values": [0,20,40,60,80,100]}},
  "color": {"field": "s", "type": "nominal", "scale": {"domain": ["0 Gy","ATMi, 0Gy","10 Gy","ATMi, 10Gy"], "range": ["#000000","#ff0000","#00ff00","#ffff00"]},
   "legend": {"title": null, "orient": "none", "legendX": 7, "legendY": 218, "labelFontSize": 15, "rowPadding": 0, "symbolSize": 350, "labelOffset": 8,
    "encode": {"symbols": {"update": {
     "shape": {"value": "M-1,0H1M0.35,0A0.35,0.35,0,1,1,-0.35,0A0.35,0.35,0,1,1,0.35,0Z"},
     "size": {"value": 350}, "strokeWidth": {"value": 2}, "opacity": {"value": 1}, "fillOpacity": {"value": 1}, "strokeOpacity": {"value": 1},
     "strokeDash": {"value": [1,0]},
     "stroke": {"signal": "['#000000','#ff0000','#00ff00','#ffff00'][indexof(['0 Gy','ATMi, 0Gy','10 Gy','ATMi, 10Gy'], datum.value)]"},
     "fill": {"signal": "['#000000','#ff0000','#00ff00','#ffff00'][indexof(['0 Gy','ATMi, 0Gy','10 Gy','ATMi, 10Gy'], datum.value)]"}
    }}}}}
 }},
{"data": {"name": "points"}, "transform": [{"filter": "datum.p === 'b'"}],
 "mark": {"type": "errorbar", "ticks": {"size": 11}, "thickness": 1.5},
 "encoding": {"x": {"field": "t", "type": "quantitative", "axis": null}, "y": {"field": "v", "type": "quantitative"}, "yError": {"field": "e"}, "color": {"field": "s", "type": "nominal"}}},
{"data": {"name": "points"}, "transform": [{"filter": "datum.p === 'b'"}],
 "mark": {"type": "point", "filled": true, "size": 65, "opacity": 1},
 "encoding": {"x": {"field": "t", "type": "quantitative", "axis": {"orient": "top", "title": "G₀, 82-6hTert", "labels": false, "ticks": false, "domain": false, "titleFontSize": 27, "titleY": -18, "titleBaseline": "alphabetic"}}, "y": {"field": "v", "type": "quantitative"}, "color": {"field": "s", "type": "nominal"}}}
],
"resolve": {"axis": {"x": "independent"}}
},
{
"width": 320, "height": 297,
"title": {"text": "c)", "dx": -72, "dy": 12},
"layer": [
{"data": {"name": "curves"}, "transform": [{"filter": "indexof(datum.p, 'c') >= 0"}],
 "mark": {"type": "line", "interpolate": "monotone", "strokeWidth": 2},
 "encoding": {
  "x": {"field": "t", "type": "quantitative", "scale": {"domain": [0, 50], "nice": false}, "axis": {"title": "Time, h", "values": [0,5,10,15,20,25,30,35,40,45,50], "labelExpr": "datum.value % 10 === 0 ? datum.label : ''", "titleY": 59, "titleBaseline": "alphabetic"}},
  "y": {"field": "v", "type": "quantitative", "title": "G₁- fraction, %", "scale": {"domain": [0, 100], "nice": false}, "axis": {"title": "G₁- fraction, %", "values": [0,20,40,60,80,100], "titleX": -49, "titleY": 123, "titleAngle": 270, "titleBaseline": "bottom", "titleAlign": "center"}},
  "color": {"field": "s", "type": "nominal", "scale": {"domain": ["0 Gy","ATRi, 0Gy","4 Gy","ATRi, 4Gy"], "range": ["#000000","#ff0000","#000000","#ff0000"]},
   "legend": {"title": null, "orient": "none", "legendX": 17, "legendY": 207, "labelFontSize": 15, "rowPadding": 0, "symbolSize": 400, "labelOffset": 8,
    "encode": {"symbols": {"update": {
     "shape": {"signal": "indexof(['0 Gy','ATRi, 0Gy','4 Gy'], datum.value) >= 0 ? 'stroke' : 'M-1,0H1M0.33,0A0.33,0.33,0,1,1,-0.33,0A0.33,0.33,0,1,1,0.33,0Z'"},
     "size": {"value": 400}, "strokeWidth": {"value": 2}, "opacity": {"value": 1}, "fillOpacity": {"value": 1}, "strokeOpacity": {"value": 1},
     "strokeDash": {"signal": "indexof(['0 Gy','ATRi, 0Gy'], datum.value) >= 0 ? [6,4] : [1,0]"},
     "stroke": {"signal": "['#000000','#ff0000','#000000','#ff0000'][indexof(['0 Gy','ATRi, 0Gy','4 Gy','ATRi, 4Gy'], datum.value)]"},
     "fill": {"signal": "['#000000','#ff0000','#000000','#ff0000'][indexof(['0 Gy','ATRi, 0Gy','4 Gy','ATRi, 4Gy'], datum.value)]"}
    }}}}},
  "strokeDash": {"field": "s", "type": "nominal", "scale": {"domain": ["0 Gy","ATRi, 0Gy","4 Gy","ATRi, 4Gy"], "range": [[6,4],[6,4],[1,0],[1,0]]}, "legend": null}
 }},
{"data": {"name": "points"}, "transform": [{"filter": "datum.p === 'c'"}],
 "mark": {"type": "errorbar", "ticks": {"size": 11}, "thickness": 1.5},
 "encoding": {"x": {"field": "t", "type": "quantitative", "title": "Time, h"}, "y": {"field": "v", "type": "quantitative", "title": "G₁- fraction, %"}, "yError": {"field": "e"}, "color": {"field": "s", "type": "nominal"}}},
{"data": {"name": "points"}, "transform": [{"filter": "datum.p === 'c'"}],
 "mark": {"type": "point", "filled": true, "size": 65, "opacity": 1},
 "encoding": {"x": {"field": "t", "type": "quantitative", "title": "Time, h"}, "y": {"field": "v", "type": "quantitative", "title": "G₁- fraction, %"}, "color": {"field": "s", "type": "nominal"}}}
]
},
{
"width": 326, "height": 297,
"title": {"text": "d)", "dx": -42, "dy": 10},
"layer": [
{"data": {"name": "curves"}, "transform": [{"filter": "datum.p === 'd'"}],
 "mark": {"type": "line", "interpolate": "monotone", "strokeWidth": 2},
 "encoding": {
  "x": {"field": "t", "type": "quantitative", "scale": {"domain": [0, 100], "nice": false}, "axis": {"title": "Time, h", "values": [0,10,20,30,40,50,60,70,80,90,100], "labelExpr": "datum.value % 20 === 0 ? datum.label : ''", "titleY": 59, "titleBaseline": "alphabetic"}},
  "y": {"field": "v", "type": "quantitative", "scale": {"domain": [0, 100], "nice": false}, "axis": {"title": null, "labels": false, "values": [0,20,40,60,80,100]}},
  "color": {"field": "s", "type": "nominal", "scale": {"domain": ["0 Gy","10 Gy","CHK1i, 0Gy","CHK1-2i, 0Gy","ATRi, 0Gy","ATRi, 10Gy","CHK1i, 10Gy","CHK1-2i, 10Gy"], "range": ["#000000","#0000ff","#00ff00","#ffff00","#ff0000","#ff00ff","#00ffff","#c0c0c0"]},
   "legend": {"title": null, "orient": "none", "legendX": 8, "legendY": 151, "labelFontSize": 16, "rowPadding": 0, "symbolSize": 324, "labelOffset": 8,
    "encode": {"symbols": {"update": {
     "shape": {"value": "M-1,0H1M0.37,0A0.37,0.37,0,1,1,-0.37,0A0.37,0.37,0,1,1,0.37,0Z"},
     "size": {"value": 324}, "strokeWidth": {"value": 2}, "opacity": {"value": 1}, "fillOpacity": {"value": 1}, "strokeOpacity": {"value": 1},
     "strokeDash": {"value": [1,0]},
     "stroke": {"signal": "['#000000','#0000ff','#00ff00','#ffff00','#ff0000','#ff00ff','#00ffff','#c0c0c0'][indexof(['0 Gy','10 Gy','CHK1i, 0Gy','CHK1-2i, 0Gy','ATRi, 0Gy','ATRi, 10Gy','CHK1i, 10Gy','CHK1-2i, 10Gy'], datum.value)]"},
     "fill": {"signal": "['#000000','#0000ff','#00ff00','#ffff00','#ff0000','#ff00ff','#00ffff','#c0c0c0'][indexof(['0 Gy','10 Gy','CHK1i, 0Gy','CHK1-2i, 0Gy','ATRi, 0Gy','ATRi, 10Gy','CHK1i, 10Gy','CHK1-2i, 10Gy'], datum.value)]"}
    }}}}}
 }},
{"data": {"name": "points"}, "transform": [{"filter": "datum.p === 'd'"}],
 "mark": {"type": "errorbar", "ticks": {"size": 11}, "thickness": 1.5},
 "encoding": {"x": {"field": "t", "type": "quantitative"}, "y": {"field": "v", "type": "quantitative"}, "yError": {"field": "e"},
  "color": {"field": "s", "type": "nominal", "scale": {"domain": ["0 Gy","10 Gy","CHK1i, 0Gy","CHK1-2i, 0Gy","ATRi, 0Gy","ATRi, 10Gy","CHK1i, 10Gy","CHK1-2i, 10Gy"], "range": ["#000000","#0000ff","#000000","#000000","#000000","#0000ff","#0000ff","#0000ff"]}, "legend": null}}},
{"data": {"name": "points"}, "transform": [{"filter": "datum.p === 'd'"}],
 "mark": {"type": "point", "filled": true, "size": 70, "opacity": 1},
 "encoding": {"x": {"field": "t", "type": "quantitative"}, "y": {"field": "v", "type": "quantitative"},
  "color": {"field": "s", "type": "nominal", "scale": {"domain": ["0 Gy","10 Gy","CHK1i, 0Gy","CHK1-2i, 0Gy","ATRi, 0Gy","ATRi, 10Gy","CHK1i, 10Gy","CHK1-2i, 10Gy"], "range": ["#000000","#0000ff","#00ff00","#ffff00","#ff0000","#ff00ff","#00ffff","#c0c0c0"]}, "legend": null}}}
],
"resolve": {"scale": {"color": "independent"}}
},
{
"width": 320, "height": 309,
"title": {"text": "e)", "dx": -75, "dy": 27},
"layer": [
{"data": {"name": "curves"}, "transform": [{"filter": "indexof(datum.p, 'e') >= 0"}],
 "mark": {"type": "line", "interpolate": "monotone", "strokeWidth": 2},
 "encoding": {
  "x": {"field": "t", "type": "quantitative", "scale": {"domain": [0, 50], "nice": false}, "axis": {"title": "Time, h", "values": [0,5,10,15,20,25,30,35,40,45,50], "labelExpr": "datum.value % 10 === 0 ? datum.label : ''", "titleY": 57, "titleBaseline": "alphabetic"}},
  "y": {"field": "v", "type": "quantitative", "title": "G₁- fraction, %", "scale": {"domain": [0, 100], "nice": false}, "axis": {"title": "G₁- fraction, %", "values": [0,20,40,60,80,100], "titleX": -49, "titleY": 141, "titleAngle": 270, "titleBaseline": "bottom", "titleAlign": "center"}},
  "color": {"field": "s", "type": "nominal", "scale": {"domain": ["0 Gy","ATMi+ATRi, 0Gy","4 Gy","ATMi+ATRi, 4Gy"], "range": ["#000000","#ff0000","#000000","#ff0000"]},
   "legend": {"title": null, "orient": "none", "legendX": 21, "legendY": 216, "labelFontSize": 14, "rowPadding": 0, "symbolSize": 400, "labelOffset": 8,
    "encode": {"symbols": {"update": {
     "shape": {"signal": "indexof(['0 Gy','ATMi+ATRi, 0Gy','4 Gy'], datum.value) >= 0 ? 'stroke' : 'M-1,0H1M0.33,0A0.33,0.33,0,1,1,-0.33,0A0.33,0.33,0,1,1,0.33,0Z'"},
     "size": {"value": 400}, "strokeWidth": {"value": 2}, "opacity": {"value": 1}, "fillOpacity": {"value": 1}, "strokeOpacity": {"value": 1},
     "strokeDash": {"signal": "indexof(['0 Gy','ATMi+ATRi, 0Gy'], datum.value) >= 0 ? [6,4] : [1,0]"},
     "stroke": {"signal": "['#000000','#ff0000','#000000','#ff0000'][indexof(['0 Gy','ATMi+ATRi, 0Gy','4 Gy','ATMi+ATRi, 4Gy'], datum.value)]"},
     "fill": {"signal": "['#000000','#ff0000','#000000','#ff0000'][indexof(['0 Gy','ATMi+ATRi, 0Gy','4 Gy','ATMi+ATRi, 4Gy'], datum.value)]"}
    }}}}},
  "strokeDash": {"field": "s", "type": "nominal", "scale": {"domain": ["0 Gy","ATMi+ATRi, 0Gy","4 Gy","ATMi+ATRi, 4Gy"], "range": [[6,4],[6,4],[1,0],[1,0]]}, "legend": null}
 }},
{"data": {"name": "points"}, "transform": [{"filter": "datum.p === 'e'"}],
 "mark": {"type": "errorbar", "ticks": {"size": 11}, "thickness": 1.5},
 "encoding": {"x": {"field": "t", "type": "quantitative", "title": "Time, h"}, "y": {"field": "v", "type": "quantitative", "title": "G₁- fraction, %"}, "yError": {"field": "e"}, "color": {"field": "s", "type": "nominal"}}},
{"data": {"name": "points"}, "transform": [{"filter": "datum.p === 'e'"}],
 "mark": {"type": "point", "filled": true, "size": 65, "opacity": 1},
 "encoding": {"x": {"field": "t", "type": "quantitative", "title": "Time, h"}, "y": {"field": "v", "type": "quantitative", "title": "G₁- fraction, %"}, "color": {"field": "s", "type": "nominal"}}}
]
},
{
"width": 326, "height": 309,
"title": {"text": "f)", "dx": -32, "dy": 24},
"layer": [
{"data": {"name": "curves"}, "transform": [{"filter": "datum.p === 'f'"}],
 "mark": {"type": "line", "interpolate": "monotone", "strokeWidth": 2},
 "encoding": {
  "x": {"field": "t", "type": "quantitative", "scale": {"domain": [0, 100], "nice": false}, "axis": {"title": "Time, h", "values": [0,10,20,30,40,50,60,70,80,90,100], "labelExpr": "datum.value % 20 === 0 ? datum.label : ''", "titleY": 58, "titleBaseline": "alphabetic"}},
  "y": {"field": "v", "type": "quantitative", "scale": {"domain": [0, 100], "nice": false}, "axis": {"title": null, "labels": false, "values": [0,20,40,60,80,100]}},
  "color": {"field": "s", "type": "nominal", "scale": {"domain": ["0 Gy","10 Gy","ATMi+ATRi, 0Gy","ATMi+CHK1i, 0Gy","ATMi+ATRi, 10Gy","ATMi+CHK1i, 10Gy"], "range": ["#000000","#000000","#ff0000","#00ff00","#0000ff","#ff00ff"]},
   "legend": {"title": null, "orient": "none", "legendX": 10, "legendY": 190, "labelFontSize": 14, "rowPadding": 0, "symbolSize": 350, "labelOffset": 8,
    "encode": {"symbols": {"update": {
     "shape": {"signal": "indexof(['0 Gy','10 Gy'], datum.value) >= 0 ? 'stroke' : 'M-1,0H1M0.35,0A0.35,0.35,0,1,1,-0.35,0A0.35,0.35,0,1,1,0.35,0Z'"},
     "size": {"value": 350}, "strokeWidth": {"value": 2}, "opacity": {"value": 1}, "fillOpacity": {"value": 1}, "strokeOpacity": {"value": 1},
     "strokeDash": {"signal": "datum.value === '0 Gy' ? [6,4] : [1,0]"},
     "stroke": {"signal": "['#000000','#000000','#ff0000','#00ff00','#0000ff','#ff00ff'][indexof(['0 Gy','10 Gy','ATMi+ATRi, 0Gy','ATMi+CHK1i, 0Gy','ATMi+ATRi, 10Gy','ATMi+CHK1i, 10Gy'], datum.value)]"},
     "fill": {"signal": "['#000000','#000000','#ff0000','#00ff00','#0000ff','#ff00ff'][indexof(['0 Gy','10 Gy','ATMi+ATRi, 0Gy','ATMi+CHK1i, 0Gy','ATMi+ATRi, 10Gy','ATMi+CHK1i, 10Gy'], datum.value)]"}
    }}}}},
  "strokeDash": {"field": "s", "type": "nominal", "scale": {"domain": ["0 Gy","10 Gy","ATMi+ATRi, 0Gy","ATMi+CHK1i, 0Gy","ATMi+ATRi, 10Gy","ATMi+CHK1i, 10Gy"], "range": [[6,4],[1,0],[1,0],[1,0],[1,0],[1,0]]}, "legend": null}
 }},
{"data": {"name": "points"}, "transform": [{"filter": "datum.p === 'f'"}],
 "mark": {"type": "errorbar", "ticks": {"size": 11}, "thickness": 1.5},
 "encoding": {"x": {"field": "t", "type": "quantitative"}, "y": {"field": "v", "type": "quantitative"}, "yError": {"field": "e"}, "color": {"field": "s", "type": "nominal"}}},
{"data": {"name": "points"}, "transform": [{"filter": "datum.p === 'f'"}],
 "mark": {"type": "point", "filled": true, "size": 65, "opacity": 1},
 "encoding": {"x": {"field": "t", "type": "quantitative"}, "y": {"field": "v", "type": "quantitative"}, "color": {"field": "s", "type": "nominal"}}}
]
}
],
"columns": 2,
"spacing": {"row": 75, "column": 47},
"bounds": "flush",
"resolve": {"scale": {"color": "independent", "strokeDash": "independent"}},
"config": {
 "font": "Liberation Sans",
 "view": {"stroke": "#000000", "strokeWidth": 2},
 "axis": {"domainColor": "#000000", "domainWidth": 2, "tickColor": "#000000", "tickWidth": 1.5, "tickSize": 5, "labelFont": "Liberation Sans", "labelFontWeight": "bold", "labelFontSize": 20, "labelColor": "#000000", "labelPadding": 7, "labelFlush": false, "labelOverlap": false, "labelAngle": 0, "titleFont": "Liberation Sans", "titleFontWeight": "bold", "titleFontSize": 24, "titleColor": "#000000", "grid": false},
 "axisY": {"labelPadding": 1, "labelFontSize": 21, "titleFontSize": 23},
 "legend": {"labelFont": "Liberation Sans", "labelFontWeight": "bold", "labelColor": "#000000", "padding": 0, "labelLimit": 300},
 "title": {"anchor": "start", "frame": "group", "font": "Liberation Sans", "fontSize": 26, "fontWeight": "bold", "color": "#000000", "offset": 0, "baseline": "alphabetic"}
}
}
